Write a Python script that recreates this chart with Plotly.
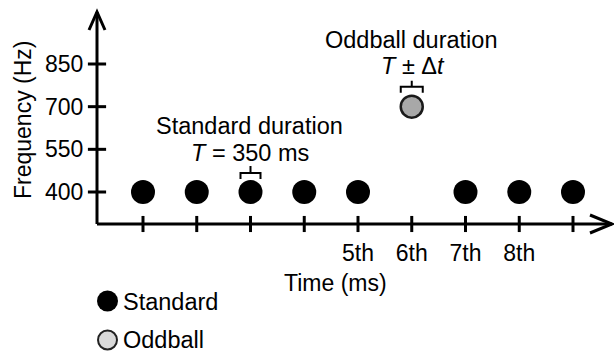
import plotly.graph_objects as go

# ---- data ----
standard_pos = [1, 2, 3, 4, 5, 7, 8, 9]
standard_freq = [400, 400, 400, 400, 400, 400, 400, 400]
oddball_pos = [6]
oddball_freq = [700]
x_tick_vals = [1, 2, 3, 4, 5, 6, 7, 8, 9]
x_tick_text = ["", "", "", "", "5th", "6th", "7th", "8th", ""]
y_tick_vals = [400, 550, 700, 850]
y_tick_text = ["400", "550", "700", "850"]
legend_labels = ["Standard", "Oddball"]

# ---- geometry (figure pixels) ----
W, H = 614, 352
L, R, T, B = 97, 612, 12, 224  # plot area edges in px
PW, PH = R - L, B - T
TICK0_PX, TICK_STEP = 143, 53.75
Y400_PX, HZ_PER_PX = 192, 450 / 128

x_range = [1 - (TICK0_PX - L) / TICK_STEP, 1 + (R - TICK0_PX) / TICK_STEP]
y_range = [400 - (B - Y400_PX) * HZ_PER_PX, 400 + (Y400_PX - T) * HZ_PER_PX]


def pxx(px):
    return (px - L) / PW


def pxy(py):
    return (B - py) / PH


FONT = "Liberation Sans, Arial, sans-serif"
FS = 23.5
FS_TICK = 23

fig = go.Figure()

# tick marks crossing the axes
fig.add_trace(go.Scatter(
    x=x_tick_vals, y=[y_range[0]] * len(x_tick_vals), mode="markers",
    marker=dict(symbol="line-ns", size=11.5, line=dict(width=3, color="black")),
    cliponaxis=False, hoverinfo="skip", showlegend=False))
fig.add_trace(go.Scatter(
    x=[x_range[0]] * len(y_tick_vals), y=y_tick_vals, mode="markers",
    marker=dict(symbol="line-ew", size=13, line=dict(width=3, color="black")),
    cliponaxis=False, hoverinfo="skip", showlegend=False))

# data points
fig.add_trace(go.Scatter(
    x=standard_pos, y=standard_freq, mode="markers", name=legend_labels[0],
    marker=dict(size=24, color="black", line=dict(width=0)),
    cliponaxis=False, showlegend=False))
fig.add_trace(go.Scatter(
    x=oddball_pos, y=oddball_freq, mode="markers", name=legend_labels[1],
    marker=dict(size=22, color="#a8a8a8", line=dict(width=2.5, color="#1a1a1a")),
    cliponaxis=False, showlegend=False))

shapes = []
# axes lines
shapes.append(dict(type="line", xref="paper", yref="paper", x0=0, y0=0, x1=1, y1=0,
                   line=dict(color="black", width=3)))
shapes.append(dict(type="line", xref="paper", yref="paper", x0=0, y0=0, x1=0, y1=1,
                   line=dict(color="black", width=3)))
# arrowheads
shapes.append(dict(type="path", xref="paper", yref="paper", xsizemode="pixel", ysizemode="pixel",
                   xanchor=0, yanchor=1, path="M-8,-18 L0,0 L8,-18",
                   line=dict(color="black", width=3)))
shapes.append(dict(type="path", xref="paper", yref="paper", xsizemode="pixel", ysizemode="pixel",
                   xanchor=1, yanchor=0, path="M-22,9 L0,0 L-22,-9",
                   line=dict(color="black", width=3)))
# duration brackets
shapes.append(dict(type="path", xref="x", yref="y", xsizemode="pixel", ysizemode="pixel",
                   xanchor=standard_pos[2], yanchor=standard_freq[2],
                   path="M-10,13 L-10,19 L10,19 L10,13 M0,19 L0,26",
                   line=dict(color="black", width=2)))
shapes.append(dict(type="path", xref="x", yref="y", xsizemode="pixel", ysizemode="pixel",
                   xanchor=oddball_pos[0], yanchor=oddball_freq[0],
                   path="M-11,14 L-11,20 L11,20 L11,14 M0,20 L0,26",
                   line=dict(color="black", width=2)))
# manual legend symbols
shapes.append(dict(type="circle", xref="paper", yref="paper", xsizemode="pixel", ysizemode="pixel",
                   xanchor=pxx(107.5), yanchor=pxy(301), x0=-10.5, x1=10.5, y0=-10.5, y1=10.5,
                   fillcolor="black", line=dict(width=0)))
shapes.append(dict(type="circle", xref="paper", yref="paper", xsizemode="pixel", ysizemode="pixel",
                   xanchor=pxx(107.5), yanchor=pxy(340), x0=-9.5, x1=9.5, y0=-9.5, y1=9.5,
                   fillcolor="#d9d9d9", line=dict(width=2, color="#222222")))

ann = []


def text(s, px, py, xanchor="center", angle=0, size=FS):
    ann.append(dict(text=s, xref="paper", yref="paper", x=pxx(px), y=pxy(py),
                    xanchor=xanchor, yanchor="middle", showarrow=False, textangle=angle,
                    font=dict(family=FONT, size=size, color="black")))


text("Standard duration", 249, 126)
text("<i>T</i> = 350 ms", 250, 153)
text("Oddball duration", 411, 40)
text("<i>T</i> ± Δ<i>t</i>", 412.5, 66)
text("Time (ms)", 335, 283, size=FS_TICK)
text("Frequency (Hz)", 23, 120, angle=-90, size=FS_TICK)
text(legend_labels[0], 121, 302, xanchor="left")
text(legend_labels[1], 121, 340, xanchor="left")

fig.update_layout(
    width=W, height=H,
    margin=dict(l=L, r=W - R, t=T, b=H - B, pad=0),
    paper_bgcolor="white", plot_bgcolor="white",
    showlegend=False,
    shapes=shapes, annotations=ann,
    font=dict(family=FONT, size=FS, color="black"),
    xaxis=dict(range=x_range, showgrid=False, zeroline=False, showline=False,
               tickmode="array", tickvals=x_tick_vals, ticktext=x_tick_text,
               ticks="outside", ticklen=8, tickcolor="rgba(0,0,0,0)",
               tickfont=dict(family=FONT, size=FS_TICK, color="black"), fixedrange=True),
    yaxis=dict(range=y_range, showgrid=False, zeroline=False, showline=False,
               tickmode="array", tickvals=y_tick_vals, ticktext=y_tick_text,
               ticks="outside", ticklen=8, tickcolor="rgba(0,0,0,0)",
               tickfont=dict(family=FONT, size=FS_TICK, color="black"), fixedrange=True),
)

fig.write_html("out.html")
